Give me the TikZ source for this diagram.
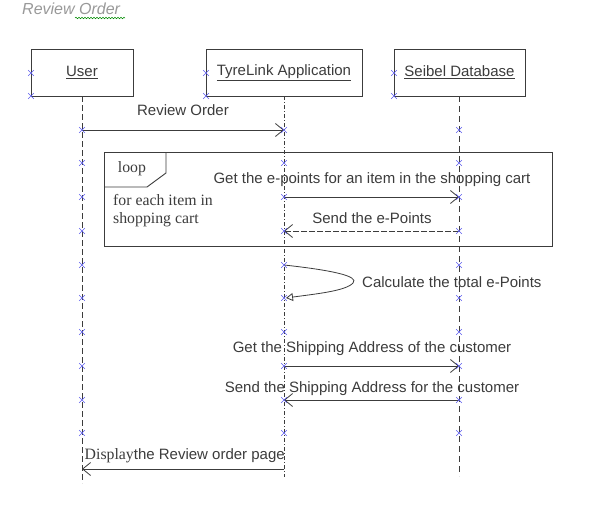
\documentclass[tikz,border=0pt]{standalone}
\usepackage{fontspec}
\setmainfont{Liberation Sans}
\newfontfamily\serifx{Liberation Serif}
\usetikzlibrary{arrows.meta,shapes.misc,decorations.pathmorphing}
\definecolor{mkblue}{RGB}{95,95,240}
\definecolor{ink}{RGB}{60,60,60}
\begin{document}
\begin{tikzpicture}[x=1pt,y=-1pt,
  txt/.style={font=\fontsize{15}{17}\selectfont, text=ink, inner sep=0pt},
  sertxt/.style={font=\serifx\fontsize{15.8}{18}\selectfont, text=ink, inner sep=0pt},
  actor/.style={draw=ink, line width=0.9pt, minimum height=47pt, inner sep=0pt,
    font=\fontsize{15}{17}\selectfont, text=ink},
  mk/.style={cross out, draw=mkblue, line width=0.6pt, minimum size=5pt, inner sep=0pt},
  msg/.style={draw=ink, line width=0.8pt, -{Straight Barb[length=8pt,width=13pt,line width=0.8pt]}},
  retmsg/.style={msg, dash pattern=on 6pt off 2pt},
  selfmsg/.style={draw=ink, line width=0.8pt, -{Triangle[open,length=7pt,width=8pt,line width=0.8pt]}},
  ulife/.style={draw=ink, line width=0.8pt, dash pattern=on 6pt off 3pt},
  tlife/.style={draw=ink, line width=0.8pt, dash pattern=on 4pt off 2pt on 1pt off 2pt},
  slife/.style={draw=ink, line width=0.8pt, dash pattern=on 6pt off 4pt},
  framebox/.style={draw=ink, line width=0.9pt}
]
\useasboundingbox (0,0) rectangle (611,514);
\fill[white] (0,0) rectangle (611,514);

% title
\node[txt, anchor=base west, font=\itshape\fontsize{16}{18}\selectfont, text=gray!80] (title) at (22,15) {Review Order};
\draw[green!55!black, line width=0.5pt, decorate, decoration={snake, amplitude=0.8pt, segment length=3pt}] (75,18) -- (125,18);

% actors
\node[actor, minimum width=102pt] (user) at (82,72.5) {\underline{User}};
\node[actor, minimum width=156pt] (app) at (284,72.5) {\underline{TyreLink Application}};
\node[actor, minimum width=131pt] (db) at (459.5,72.5) {\underline{Seibel Database}};

% lifeline ends
\coordinate (uEnd) at (82,483);
\coordinate (aEnd) at (284,477);
\coordinate (dEnd) at (459,476);
\draw[ulife] (82,96) -- (uEnd);
\draw[tlife] (284,96) -- (aEnd);
\draw[slife] (459,96) -- (dEnd);

% loop frame
\node[framebox, anchor=north west, minimum width=448pt, minimum height=94pt, inner sep=0pt] (loopfr) at (104,152) {};
\draw[framebox] (loopfr.north west) ++(0,35) -- ++(43,0) -- ++(19,-14) -- ++(0,-21);
\node[sertxt, anchor=base] (looplbl) at (132,172) {loop};
\node[sertxt, anchor=base west] (guard1) at (113,205) {for each item in};
\node[sertxt, anchor=base west] (guard2) at (113,223) {shopping cart};

% message coordinates
\coordinate (u1) at (82,130);   \coordinate (a1) at (284,130);
\coordinate (a2) at (284,197);  \coordinate (d2) at (459,197);
\coordinate (d3) at (459,231);  \coordinate (a3) at (284,231);
\coordinate (a4) at (284,265);  \coordinate (a5) at (286,298);
\coordinate (a6) at (284,366);  \coordinate (d6) at (459,366);
\coordinate (d7) at (459,400);  \coordinate (a7) at (284,400);
\coordinate (a8) at (284,469);  \coordinate (u8) at (82,469);

% messages
\draw[msg] (u1) -- (a1);
\node[txt, anchor=base] (m1) at (183,115) {Review Order};

\draw[msg] (a2) -- (d2);
\node[txt, anchor=base] (m2) at (372,183) {Get the e-points for an item in the shopping cart};

\draw[retmsg] (d3) -- (a3);
\node[txt, anchor=base] (m3) at (372,223) {Send the e-Points};

\draw[selfmsg] (a4) .. controls (330,270) and (360,276) .. (353,283) .. controls (346,291) and (315,294) .. (a5);
\node[txt, anchor=base west] (m4) at (362,287) {Calculate the total e-Points};

\draw[msg] (a6) -- (d6);
\node[txt, anchor=base] (m5) at (372,352) {Get the Shipping Address of the customer};

\draw[msg] (d7) -- (a7);
\node[txt, anchor=base] (m6) at (372,392) {Send the Shipping Address for the customer};

\draw[msg] (a8) -- (u8);
\node[txt, anchor=base east] (m7) at (285,459) {{\serifx\fontsize{15.8}{18}\selectfont Display}the Review order page};

% markers
\foreach \y [count=\i] in {130,163,197,231,265,298,332,366,400,433} {
  \node[mk] (mu\i) at (82,\y) {};
  \node[mk] (ma\i) at (284,\y) {};
  \node[mk] (md\i) at (459,\y) {};
}
\foreach \x/\n in {31/u,206/a,394/d} {
  \node[mk] (b\n1) at (\x,73) {};
  \node[mk] (b\n2) at (\x,96) {};
}
\end{tikzpicture}
\end{document}
